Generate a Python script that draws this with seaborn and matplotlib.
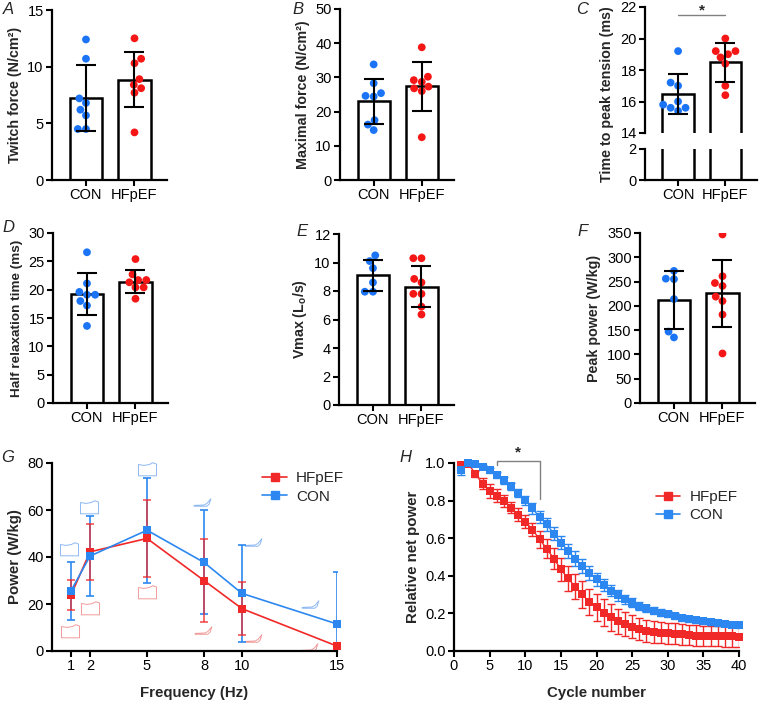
import numpy as np
import pandas as pd
import matplotlib
matplotlib.use("Agg")
import matplotlib.pyplot as plt
from matplotlib.lines import Line2D
from matplotlib.path import Path
import seaborn as sns

sns.set_theme(style="ticks")
plt.rcParams['font.family'] = ['Liberation Sans', 'DejaVu Sans']
plt.rcParams['mathtext.fontset'] = 'custom'
plt.rcParams['mathtext.rm'] = 'Liberation Sans'
plt.rcParams['mathtext.bf'] = 'Liberation Sans:bold'

# ---------------- data ----------------
groups = ["CON", "HFpEF"]

A_con = [12.4, 10.7, 7.2, 6.8, 6.2, 5.7, 4.5, 4.5]
A_hf = [12.5, 10.7, 10.3, 8.9, 8.4, 8.1, 7.7, 4.2]
A_mean = [7.25, 8.85]
A_sd = [2.9, 2.45]

B_con = [33.8, 28.3, 25.4, 24.6, 24.4, 17.5, 16.2, 14.6]
B_hf = [38.8, 30.2, 29.2, 28.7, 27.3, 26.8, 26.0, 12.5]
B_mean = [23.0, 27.4]
B_sd = [6.6, 7.2]

C_con = [19.2, 17.2, 17.0, 16.0, 15.8, 15.6, 15.6, 15.4]
C_hf = [20.0, 19.2, 19.2, 19.0, 18.8, 18.4, 17.0, 16.4]
C_mean = [16.48, 18.48]
C_sd = [1.28, 1.22]

D_con = [26.6, 21.1, 19.6, 19.1, 19.1, 18.0, 17.2, 13.6]
D_hf = [25.4, 22.7, 21.7, 21.7, 21.3, 20.4, 20.4, 18.4]
D_mean = [19.3, 21.4]
D_sd = [3.7, 2.05]

E_con = [10.5, 10.1, 9.6, 8.6, 7.95, 7.95]
E_hf = [10.3, 10.3, 8.85, 8.6, 7.8, 7.8, 6.9, 6.35]
E_mean = [9.1, 8.3]
E_sd = [1.1, 1.45]

F_con = [272, 256, 255, 214, 147, 135]
F_hf = [347, 261, 247, 241, 219, 210, 182, 102]
F_mean = [212, 226]
F_sd = [59, 69]

G_freq = [1, 2, 5, 8, 10, 15]
G_hf = [23.8, 42.2, 47.9, 30.0, 18.0, 2.1]
G_hf_sd = [6.5, 11.8, 16.3, 17.8, 11.3, 0.0]
G_con = [25.6, 40.4, 51.4, 37.7, 24.5, 11.5]
G_con_sd = [12.4, 16.9, 22.3, 22.1, 20.6, 22.0]

# decorative work-loop icons in panel G (annotation anchors)
G_icon_con_x = [0.9, 1.95, 5.0, 7.9, 10.6, 13.6]
G_icon_con_y = [43.2, 61.3, 77.6, 63.5, 46.4, 20.0]
G_icon_hf_x = [0.95, 2.0, 5.0, 7.95, 10.6, 13.5]
G_icon_hf_y = [8.6, 18.4, 25.2, 8.9, 5.4, 1.8]

H_cycle = list(range(1, 41))
H_hf = [0.99, 0.996, 0.943, 0.89, 0.851, 0.825, 0.798, 0.763, 0.726, 0.688,
        0.646, 0.595, 0.545, 0.492, 0.435, 0.386, 0.342, 0.301, 0.262, 0.232,
        0.204, 0.179, 0.159, 0.143, 0.129, 0.117, 0.108, 0.101, 0.097, 0.094,
        0.092, 0.088, 0.085, 0.082, 0.080, 0.079, 0.079, 0.078, 0.078, 0.077]
H_hf_sd = [0.0, 0.005, 0.015, 0.03, 0.035, 0.035, 0.03, 0.03, 0.032, 0.035,
           0.035, 0.045, 0.05, 0.055, 0.06, 0.065, 0.065, 0.07, 0.07, 0.072,
           0.07, 0.07, 0.066, 0.065, 0.062, 0.06, 0.058, 0.057, 0.056, 0.055,
           0.055, 0.055, 0.055, 0.055, 0.055, 0.055, 0.055, 0.055, 0.055, 0.055]
H_con = [0.965, 1.0, 0.996, 0.979, 0.961, 0.935, 0.908, 0.876, 0.841, 0.802,
         0.758, 0.713, 0.673, 0.625, 0.577, 0.533, 0.492, 0.453, 0.416, 0.382,
         0.350, 0.320, 0.296, 0.274, 0.257, 0.241, 0.227, 0.214, 0.204, 0.195,
         0.186, 0.177, 0.170, 0.163, 0.158, 0.152, 0.147, 0.143, 0.140, 0.136]
H_con_sd = [0.03, 0.005, 0.005, 0.01, 0.012, 0.015, 0.018, 0.02, 0.022, 0.025,
            0.028, 0.03, 0.033, 0.035, 0.037, 0.038, 0.038, 0.037, 0.036, 0.035,
            0.033, 0.03, 0.028, 0.026, 0.024, 0.022, 0.02, 0.019, 0.018, 0.016,
            0.015, 0.015, 0.014, 0.014, 0.013, 0.013, 0.013, 0.012, 0.012, 0.012]

# ---------------- style ----------------
BLUE_DOT = "#1A74F5"
RED_DOT = "#F51616"
BLUE_LINE = "#2C88F0"
RED_LINE = "#F02828"
pal = {"CON": BLUE_DOT, "HFpEF": RED_DOT}
LABEL_FS = 10.3

W, H = 760, 704
fig = plt.figure(figsize=(W / 100, H / 100), dpi=100)


def add_ax(left, top, right, bottom):
    return fig.add_axes([left / W, 1 - bottom / H, (right - left) / W, (bottom - top) / H])


def style_ax(ax):
    for s in ["top", "right"]:
        ax.spines[s].set_visible(False)
    for s in ["left", "bottom"]:
        ax.spines[s].set_linewidth(1.6)
        ax.spines[s].set_color("black")
    ax.tick_params(axis="both", direction="out", length=4, width=1.5,
                   labelsize=10.5, colors="black", pad=2)


def bar_panel(ax, con, hf, mean, sd, ylim, yticks, ylabel, errorbars=True,
              xlabels=True, label_fs=LABEL_FS):
    sns.barplot(x=groups, y=mean, order=groups, ax=ax, color="white",
                edgecolor="black", linewidth=1.8, width=0.66, errorbar=None,
                saturation=1)
    df = pd.DataFrame({"group": [groups[0]] * len(con) + [groups[1]] * len(hf),
                       "value": list(con) + list(hf)})
    sns.swarmplot(data=df, x="group", y="value", hue="group", palette=pal,
                  order=groups, hue_order=groups, size=5.6, ax=ax,
                  legend=False, zorder=3)
    if errorbars:
        ax.errorbar([0, 1], mean, yerr=sd, fmt="none", ecolor="black",
                    elinewidth=1.5, capsize=7, capthick=1.5, zorder=4)
    style_ax(ax)
    ax.set_xlim(-0.7, 1.67)
    ax.set_ylim(*ylim)
    ax.set_yticks(yticks)
    ax.set_xlabel("")
    ax.set_ylabel(ylabel, fontsize=label_fs, fontweight="bold", labelpad=4)
    if not xlabels:
        ax.set_xticks([])
        ax.spines["bottom"].set_visible(False)


# A
axA = add_ax(52, 10, 167, 180)
bar_panel(axA, A_con, A_hf, A_mean, A_sd, (0, 15), [0, 5, 10, 15], "Twitch force (N/cm²)")
# B
axB = add_ax(340, 9, 454, 180)
bar_panel(axB, B_con, B_hf, B_mean, B_sd, (0, 50), [0, 10, 20, 30, 40, 50], "Maximal force (N/cm²)")
# C (broken axis)
axC1 = add_ax(645, 7, 757, 133)
bar_panel(axC1, C_con, C_hf, C_mean, C_sd, (14, 22), [14, 16, 18, 20, 22], "", xlabels=False)
axC2 = add_ax(645, 149, 757, 180)
sns.barplot(x=groups, y=C_mean, order=groups, ax=axC2, color="white",
            edgecolor="black", linewidth=1.8, width=0.66, errorbar=None, saturation=1)
style_ax(axC2)
axC2.set_xlim(-0.7, 1.67)
axC2.set_ylim(0, 2)
axC2.set_yticks([0, 2])
axC2.set_xlabel("")
axC2.set_ylabel("")
fig.text(607 / W, 1 - 94 / H, "Time to peak tension (ms)", rotation=90,
         ha="center", va="center", fontsize=LABEL_FS, fontweight="bold")
# significance in C
axC1.plot([0, 1], [21.47, 21.47], color="#808080", lw=1.0, clip_on=False)
axC1.text(0.5, 21.75, "*", ha="center", va="center", fontsize=11, fontweight="bold")

# D
axD = add_ax(53, 233, 168, 403)
bar_panel(axD, D_con, D_hf, D_mean, D_sd, (0, 30), [0, 5, 10, 15, 20, 25, 30],
          "Half relaxation time (ms)", label_fs=9.7)
# E
axE = add_ax(339, 234, 454, 405)
bar_panel(axE, E_con, E_hf, E_mean, E_sd, (0, 12), [0, 2, 4, 6, 8, 10, 12], r"Vmax (L$_\mathbf{o}$/s)")
# F
axF = add_ax(640, 233, 755, 403)
bar_panel(axF, F_con, F_hf, F_mean, F_sd, (0, 350), list(range(0, 351, 50)), "Peak power (W/kg)")

# G
axG = add_ax(52, 463, 337, 651)
dfG = pd.DataFrame({"freq": G_freq * 2, "power": G_hf + G_con,
                    "group": ["HFpEF"] * len(G_freq) + ["CON"] * len(G_freq)})
axG.errorbar(G_freq, G_con, yerr=G_con_sd, fmt="none", ecolor=BLUE_LINE,
             elinewidth=1.2, capsize=3, capthick=1.2, zorder=2, clip_on=True)
axG.errorbar(G_freq, G_hf, yerr=G_hf_sd, fmt="none", ecolor=RED_LINE,
             elinewidth=1.2, capsize=3, capthick=1.2, zorder=2, alpha=0.8)
sns.lineplot(data=dfG, x="freq", y="power", hue="group",
             palette={"HFpEF": RED_LINE, "CON": BLUE_LINE}, hue_order=["HFpEF", "CON"],
             marker="s", markersize=6, markeredgewidth=0, lw=1.2, ax=axG,
             legend=False, zorder=3, clip_on=False)

# small work-loop icons (decorative)
box_loop = Path([(-1, -0.7), (1, -0.7), (1, 0.6), (0.6, 0.75), (0.2, 0.55),
                 (-0.4, 0.45), (-1, 0.55), (-1, -0.7)],
                [Path.MOVETO] + [Path.LINETO] * 6 + [Path.CLOSEPOLY])
thin_loop = Path([(-1, -0.45), (0.5, -0.45), (0.8, -0.2), (1, 0.45), (0.55, -0.1),
                  (0.2, -0.3), (-1, -0.35), (-1, -0.45)],
                 [Path.MOVETO] + [Path.LINETO] * 6 + [Path.CLOSEPOLY])
for i in range(len(G_freq)):
    mk = box_loop if i < 3 else thin_loop
    ms = 13 if i < 3 else 12
    axG.plot([G_icon_con_x[i]], [G_icon_con_y[i]], marker=mk, ms=ms, mfc="none",
             mec="#8DB8F2", mew=0.7, ls="none", clip_on=False, zorder=1)
    axG.plot([G_icon_hf_x[i]], [G_icon_hf_y[i]], marker=mk, ms=ms, mfc="none",
             mec="#F29A9A", mew=0.7, ls="none", clip_on=False, zorder=1)

style_ax(axG)
axG.set_xlim(0, 15)
axG.set_ylim(0, 80)
axG.set_xticks(G_freq)
axG.set_yticks([0, 20, 40, 60, 80])
axG.set_xlabel("Frequency (Hz)", fontsize=LABEL_FS + 0.5, fontweight="bold", labelpad=9)
axG.set_ylabel("Power (W/kg)", fontsize=LABEL_FS + 0.5, fontweight="bold", labelpad=4)
hG = [Line2D([], [], color=RED_LINE, marker="s", markersize=6, lw=1.2),
      Line2D([], [], color=BLUE_LINE, marker="s", markersize=6, lw=1.2)]
axG.legend(hG, ["HFpEF", "CON"], loc="upper left", bbox_to_anchor=(0.69, 1.03),
           frameon=False, fontsize=11, handlelength=1.6, handletextpad=0.6,
           labelspacing=0.3)

# H
axH = add_ax(454, 463, 739, 651)
dfH = pd.DataFrame({"cycle": H_cycle * 2, "power": H_hf + H_con,
                    "group": ["HFpEF"] * len(H_cycle) + ["CON"] * len(H_cycle)})
axH.errorbar(H_cycle, H_hf, yerr=H_hf_sd, fmt="none", ecolor=RED_LINE,
             elinewidth=1.0, capsize=2.8, capthick=1.0, zorder=2)
axH.errorbar(H_cycle, H_con, yerr=H_con_sd, fmt="none", ecolor=BLUE_LINE,
             elinewidth=1.0, capsize=2.8, capthick=1.0, zorder=2)
sns.lineplot(data=dfH, x="cycle", y="power", hue="group",
             palette={"HFpEF": RED_LINE, "CON": BLUE_LINE}, hue_order=["HFpEF", "CON"],
             marker="s", markersize=5.5, markeredgewidth=0, lw=1.0, ax=axH,
             legend=False, zorder=3, clip_on=False)
style_ax(axH)
axH.set_xlim(0, 40)
axH.set_ylim(0, 1.0)
axH.set_xticks(range(0, 41, 5))
axH.set_yticks(np.arange(0, 1.01, 0.2))
axH.set_yticklabels([f"{v:.1f}" for v in np.arange(0, 1.01, 0.2)])
axH.set_xlabel("Cycle number", fontsize=LABEL_FS + 0.5, fontweight="bold", labelpad=9)
axH.set_ylabel("Relative net power", fontsize=LABEL_FS + 0.5, fontweight="bold", labelpad=4)
hH = [Line2D([], [], color=RED_LINE, marker="s", markersize=6, lw=1.2),
      Line2D([], [], color=BLUE_LINE, marker="s", markersize=6, lw=1.2)]
axH.legend(hH, ["HFpEF", "CON"], loc="upper left", bbox_to_anchor=(0.66, 0.93),
           frameon=False, fontsize=11, handlelength=1.6, handletextpad=0.6,
           labelspacing=0.3)
# significance bracket
axH.plot([6, 6, 12, 12], [0.988, 1.01, 1.01, 0.807], color="#808080", lw=1.0, clip_on=False)
axH.text(9, 1.055, "*", ha="center", va="center", fontsize=11, fontweight="bold")

# panel letters
for lab, x, y in [("A", 8, 9), ("B", 298, 9), ("C", 582, 9), ("D", 8, 228),
                  ("E", 302, 231), ("F", 583, 231), ("G", 8, 457), ("H", 405, 457)]:
    fig.text(x / W, 1 - y / H, lab, fontsize=12, fontstyle="italic",
             ha="center", va="center")

fig.savefig("out.png", dpi=100)
